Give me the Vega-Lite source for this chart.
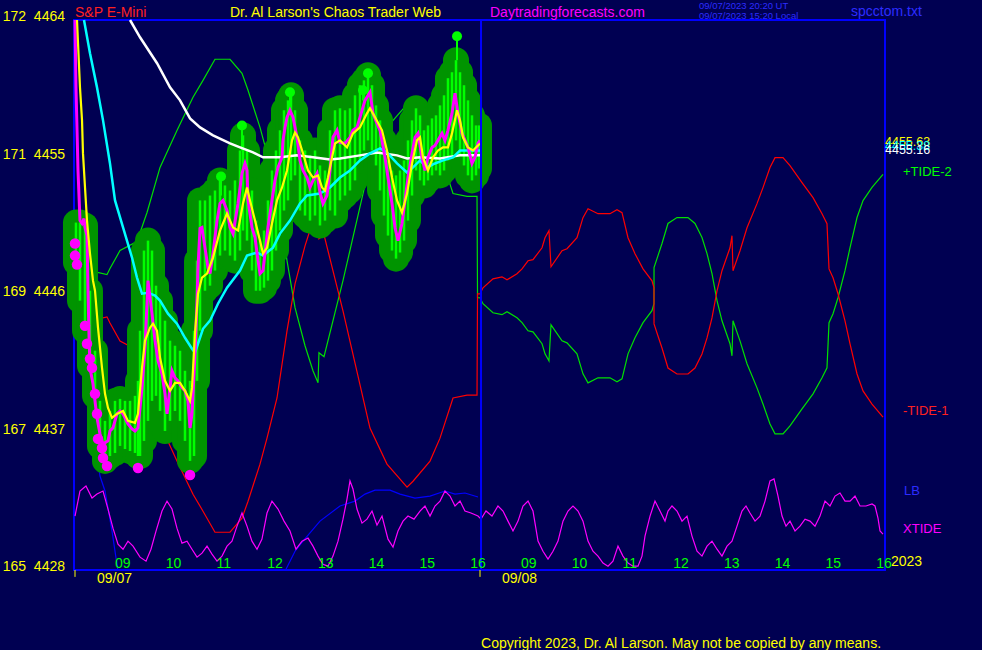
{
"$schema":"https://vega.github.io/schema/vega-lite/v6.json",
"width":811,"height":550,
"autosize":{"type":"none"},
"padding":{"left":74,"top":20,"right":97,"bottom":80},
"background":"#000052",
"config":{"view":{"stroke":"#0000ff","strokeWidth":2},"font":"Liberation Sans","text":{"font":"Liberation Sans"}},
"datasets":{
"tide":[
{"h":8.291,"g":4447.79,"r":4444.11},{"h":8.586,"g":4447.59,"r":4444.31},{"h":8.921,"g":4447.33,"r":4444.57},{"h":8.98,"g":4447.73,"r":4444.17},{"h":9.178,"g":4448.91,"r":4442.99},{"h":9.512,"g":4449.5,"r":4442.4},{"h":9.71,"g":4451.4,"r":4440.5},{"h":9.966,"g":4454.35,"r":4437.55},{"h":10.3,"g":4456.77,"r":4435.13},{"h":10.616,"g":4458.94,"r":4432.96},{"h":10.813,"g":4460.05,"r":4431.85},{"h":11.049,"g":4461.43,"r":4430.47},{"h":11.345,"g":4461.43,"r":4430.47},{"h":11.581,"g":4460.51,"r":4431.39},{"h":11.7,"g":4459.4,"r":4432.5},{"h":11.936,"g":4456.97,"r":4434.93},{"h":12.074,"g":4455.27,"r":4436.63},{"h":12.271,"g":4452.64,"r":4439.26},{"h":12.468,"g":4448.25,"r":4443.65},{"h":12.626,"g":4445.17,"r":4446.73},{"h":12.823,"g":4442.68,"r":4449.22},{"h":12.98,"g":4441.04,"r":4450.86},{"h":13.079,"g":4440.25,"r":4451.65},{"h":13.098,"g":4442.22,"r":4449.68},{"h":13.197,"g":4441.96,"r":4449.94},{"h":13.571,"g":4446.94,"r":4444.96},{"h":14.103,"g":4454.61,"r":4437.29},{"h":14.438,"g":4456.97,"r":4434.93},{"h":14.833,"g":4458.48,"r":4433.42},{"h":14.951,"g":4458.09,"r":4433.81},{"h":15.286,"g":4456.77,"r":4435.13},{"h":15.483,"g":4455.27,"r":4436.63},{"h":15.739,"g":4452.64,"r":4439.26},{"h":16.015,"g":4452.45,"r":4439.45},{"h":16.212,"g":4452.45,"r":4439.45},{"h":16.222,"g":4445.82,"r":4446.08},{"h":16.271,"g":4445.82,"r":4446.08},
{"h":16.33,"g":4445.43,"r":4446.47},{"h":16.527,"g":4444.84,"r":4447.06},{"h":16.704,"g":4444.71,"r":4447.19},{"h":16.803,"g":4444.91,"r":4446.99},{"h":17.0,"g":4444.51,"r":4447.39},{"h":17.099,"g":4444.19,"r":4447.71},{"h":17.217,"g":4443.66,"r":4448.24},{"h":17.315,"g":4443.59,"r":4448.31},{"h":17.493,"g":4442.81,"r":4449.09},{"h":17.552,"g":4442.15,"r":4449.75},{"h":17.63,"g":4441.69,"r":4450.21},{"h":17.67,"g":4444.05,"r":4447.85},{"h":17.887,"g":4443.0,"r":4448.9},{"h":17.985,"g":4442.87,"r":4449.03},{"h":18.182,"g":4442.15,"r":4449.75},{"h":18.3,"g":4440.84,"r":4451.06},{"h":18.399,"g":4440.25,"r":4451.65},{"h":18.596,"g":4440.58,"r":4451.32},{"h":18.832,"g":4440.58,"r":4451.32},{"h":18.97,"g":4440.32,"r":4451.58},{"h":19.069,"g":4440.51,"r":4451.39},{"h":19.187,"g":4442.15,"r":4449.75},{"h":19.325,"g":4443.2,"r":4448.7},{"h":19.483,"g":4444.19,"r":4447.71},{"h":19.66,"g":4444.97,"r":4446.93},{"h":19.699,"g":4445.43,"r":4446.47},{"h":19.7,"g":4447.79,"r":4444.11},{"h":19.778,"g":4448.58,"r":4443.32},{"h":19.857,"g":4449.37,"r":4442.53},{"h":19.975,"g":4450.68,"r":4441.22},{"h":20.152,"g":4451.07,"r":4440.83},{"h":20.369,"g":4451.07,"r":4440.83},{"h":20.507,"g":4450.68,"r":4441.22},{"h":20.645,"g":4449.76,"r":4442.14},{"h":20.744,"g":4448.71,"r":4443.19},{"h":20.842,"g":4447.4,"r":4444.5},{"h":20.941,"g":4445.63,"r":4446.27},{"h":21.039,"g":4444.31,"r":4447.59},{"h":21.197,"g":4442.81,"r":4449.09},{"h":21.236,"g":4442.02,"r":4449.88},{"h":21.256,"g":4444.31,"r":4447.59},{"h":21.394,"g":4443.0,"r":4448.9},{"h":21.532,"g":4441.5,"r":4450.4},{"h":21.729,"g":4439.92,"r":4451.98},{"h":21.847,"g":4438.87,"r":4453.03},{"h":21.985,"g":4437.56,"r":4454.34},{"h":22.084,"g":4436.91,"r":4454.99},{"h":22.241,"g":4436.91,"r":4454.99},{"h":22.379,"g":4437.43,"r":4454.47},{"h":22.616,"g":4438.55,"r":4453.35},{"h":22.833,"g":4439.53,"r":4452.37},{"h":23.01,"g":4440.58,"r":4451.32},{"h":23.108,"g":4441.23,"r":4450.67},{"h":23.148,"g":4444.19,"r":4447.71},{"h":23.227,"g":4444.77,"r":4447.13},{"h":23.325,"g":4445.82,"r":4446.08},{"h":23.463,"g":4447.59,"r":4444.31},{"h":23.562,"g":4449.1,"r":4442.8},{"h":23.7,"g":4451.07,"r":4440.83},{"h":23.818,"g":4452.18,"r":4439.72},{"h":23.995,"g":4453.04,"r":4438.86},{"h":24.212,"g":4453.89,"r":4438.01}],
"xtide":[
{"h":8.291,"v":4431.53},{"h":8.389,"v":4433.17},{"h":8.507,"v":4433.5},{"h":8.626,"v":4432.71},{"h":8.724,"v":4432.97},{"h":8.843,"v":4433.17},{"h":8.941,"v":4431.99},{"h":9.039,"v":4430.74},{"h":9.138,"v":4429.69},{"h":9.237,"v":4429.36},{"h":9.335,"v":4429.89},{"h":9.434,"v":4429.56},{"h":9.572,"v":4428.84},{"h":9.69,"v":4428.58},{"h":9.788,"v":4429.36},{"h":9.887,"v":4430.55},{"h":10.005,"v":4431.86},{"h":10.104,"v":4432.51},{"h":10.202,"v":4431.99},{"h":10.3,"v":4430.74},{"h":10.399,"v":4429.76},{"h":10.498,"v":4429.89},{"h":10.596,"v":4429.36},{"h":10.695,"v":4428.84},{"h":10.793,"v":4429.1},{"h":10.892,"v":4429.56},{"h":10.99,"v":4429.04},{"h":11.089,"v":4428.58},{"h":11.187,"v":4428.91},{"h":11.286,"v":4429.56},{"h":11.384,"v":4429.89},{"h":11.483,"v":4430.87},{"h":11.581,"v":4431.73},{"h":11.68,"v":4430.87},{"h":11.778,"v":4429.89},{"h":11.877,"v":4429.36},{"h":11.975,"v":4430.02},{"h":12.074,"v":4431.73},{"h":12.172,"v":4432.51},{"h":12.291,"v":4431.99},{"h":12.409,"v":4431.2},{"h":12.527,"v":4430.55},{"h":12.645,"v":4429.36},{"h":12.764,"v":4429.89},{"h":12.882,"v":4430.09},{"h":12.98,"v":4429.56},{"h":13.079,"v":4428.91},{"h":13.177,"v":4428.38},{"h":13.276,"v":4428.25},{"h":13.374,"v":4428.91},{"h":13.473,"v":4429.89},{"h":13.571,"v":4431.33},{"h":13.65,"v":4432.64},{"h":13.709,"v":4433.83},{"h":13.768,"v":4433.3},{"h":13.847,"v":4431.99},{"h":13.946,"v":4431.07},{"h":14.044,"v":4431.33},{"h":14.143,"v":4431.86},{"h":14.241,"v":4430.94},{"h":14.34,"v":4431.53},{"h":14.458,"v":4430.02},{"h":14.557,"v":4429.5},{"h":14.655,"v":4430.55},{"h":14.754,"v":4431.2},{"h":14.852,"v":4431.53},{"h":14.97,"v":4431.33},{"h":15.089,"v":4431.86},{"h":15.187,"v":4432.19},{"h":15.286,"v":4431.53},{"h":15.384,"v":4432.19},{"h":15.483,"v":4432.51},{"h":15.581,"v":4433.17},{"h":15.68,"v":4432.84},{"h":15.778,"v":4432.19},{"h":15.877,"v":4432.51},{"h":15.975,"v":4431.86},{"h":16.093,"v":4431.73},{"h":16.231,"v":4431.53},{"h":16.291,"v":4431.33},{"h":16.389,"v":4431.86},{"h":16.507,"v":4431.53},{"h":16.625,"v":4432.19},{"h":16.724,"v":4431.86},{"h":16.822,"v":4431.2},{"h":16.921,"v":4430.55},{"h":17.02,"v":4431.2},{"h":17.118,"v":4432.19},{"h":17.217,"v":4432.51},{"h":17.315,"v":4431.86},{"h":17.414,"v":4429.89},{"h":17.512,"v":4429.23},{"h":17.611,"v":4428.71},{"h":17.709,"v":4429.23},{"h":17.808,"v":4429.89},{"h":17.906,"v":4431.2},{"h":18.005,"v":4431.86},{"h":18.103,"v":4432.19},{"h":18.202,"v":4431.86},{"h":18.3,"v":4431.2},{"h":18.399,"v":4429.89},{"h":18.497,"v":4429.23},{"h":18.596,"v":4428.91},{"h":18.694,"v":4428.45},{"h":18.793,"v":4428.25},{"h":18.891,"v":4428.58},{"h":18.99,"v":4429.56},{"h":19.088,"v":4428.91},{"h":19.187,"v":4428.45},{"h":19.286,"v":4428.25},{"h":19.384,"v":4428.25},{"h":19.463,"v":4428.91},{"h":19.522,"v":4430.22},{"h":19.621,"v":4431.53},{"h":19.719,"v":4432.51},{"h":19.818,"v":4431.86},{"h":19.916,"v":4431.2},{"h":19.975,"v":4431.86},{"h":20.054,"v":4432.19},{"h":20.152,"v":4431.86},{"h":20.251,"v":4431.2},{"h":20.35,"v":4431.53},{"h":20.448,"v":4430.22},{"h":20.547,"v":4429.23},{"h":20.645,"v":4428.91},{"h":20.744,"v":4429.56},{"h":20.842,"v":4429.89},{"h":20.941,"v":4429.36},{"h":21.039,"v":4428.91},{"h":21.138,"v":4429.56},{"h":21.236,"v":4429.89},{"h":21.335,"v":4430.87},{"h":21.433,"v":4431.86},{"h":21.512,"v":4432.19},{"h":21.591,"v":4431.73},{"h":21.69,"v":4431.2},{"h":21.788,"v":4431.53},{"h":21.887,"v":4432.51},{"h":21.985,"v":4433.83},{"h":22.064,"v":4433.96},{"h":22.143,"v":4432.84},{"h":22.222,"v":4431.53},{"h":22.3,"v":4430.87},{"h":22.379,"v":4431.2},{"h":22.478,"v":4430.55},{"h":22.576,"v":4430.87},{"h":22.675,"v":4431.33},{"h":22.773,"v":4431.2},{"h":22.872,"v":4430.87},{"h":22.97,"v":4431.53},{"h":23.069,"v":4432.51},{"h":23.167,"v":4432.19},{"h":23.266,"v":4432.84},{"h":23.364,"v":4433.04},{"h":23.463,"v":4432.51},{"h":23.562,"v":4432.51},{"h":23.66,"v":4432.84},{"h":23.759,"v":4432.19},{"h":23.877,"v":4432.19},{"h":23.995,"v":4432.32},{"h":24.054,"v":4432.19},{"h":24.113,"v":4431.4},{"h":24.153,"v":4430.55},{"h":24.212,"v":4430.35}],
"lb":[
{"h":8.626,"v":4437.76},{"h":8.783,"v":4434.15},{"h":8.882,"v":4433.17},{"h":9.02,"v":4430.55},{"h":9.138,"v":4427.92},{"h":9.276,"v":4425.95},{"h":10.754,"v":4423.33},{"h":12.133,"v":4425.3},{"h":12.429,"v":4427.92},{"h":12.626,"v":4429.23},{"h":12.783,"v":4429.89},{"h":13.118,"v":4431.2},{"h":13.512,"v":4432.19},{"h":13.808,"v":4432.51},{"h":14.005,"v":4432.97},{"h":14.202,"v":4433.23},{"h":14.498,"v":4433.23},{"h":14.695,"v":4432.97},{"h":14.99,"v":4432.71},{"h":15.286,"v":4432.84},{"h":15.581,"v":4433.17},{"h":15.778,"v":4432.97},{"h":15.975,"v":4433.04},{"h":16.231,"v":4432.78}],
"bars":[
{"h":8.31,"hi":4450.74,"lo":4448.12},{"h":8.389,"hi":4450.74,"lo":4445.63},{"h":8.488,"hi":4450.55,"lo":4443.66},{"h":8.586,"hi":4446.28,"lo":4441.37},{"h":8.685,"hi":4442.35,"lo":4439.4},{"h":8.783,"hi":4439.07,"lo":4436.12},{"h":8.882,"hi":4437.76,"lo":4435.14},{"h":8.98,"hi":4438.41,"lo":4435.46},{"h":9.079,"hi":4439.07,"lo":4435.66},{"h":9.178,"hi":4439.2,"lo":4436.12},{"h":9.276,"hi":4439.07,"lo":4435.92},{"h":9.375,"hi":4439.07,"lo":4435.79},{"h":9.473,"hi":4439.4,"lo":4435.66},{"h":9.532,"hi":4440.38,"lo":4435.46},{"h":9.572,"hi":4443.66,"lo":4435.46},{"h":9.65,"hi":4448.91,"lo":4436.45},{"h":9.729,"hi":4449.56,"lo":4437.76},{"h":9.808,"hi":4448.91,"lo":4439.07},{"h":9.887,"hi":4446.61,"lo":4439.4},{"h":9.966,"hi":4445.63,"lo":4438.41},{"h":10.064,"hi":4444.32,"lo":4437.1},{"h":10.163,"hi":4443.01,"lo":4437.76},{"h":10.261,"hi":4442.68,"lo":4438.41},{"h":10.36,"hi":4442.35,"lo":4437.76},{"h":10.458,"hi":4441.04,"lo":4436.45},{"h":10.557,"hi":4440.38,"lo":4435.14},{"h":10.636,"hi":4443.66,"lo":4435.46},{"h":10.695,"hi":4448.25,"lo":4440.38},{"h":10.754,"hi":4452.19,"lo":4443.66},{"h":10.852,"hi":4452.19,"lo":4446.28},{"h":10.951,"hi":4452.51,"lo":4446.61},{"h":11.049,"hi":4452.84,"lo":4447.6},{"h":11.148,"hi":4453.5,"lo":4448.58},{"h":11.246,"hi":4453.17,"lo":4448.91},{"h":11.345,"hi":4452.84,"lo":4448.58},{"h":11.443,"hi":4453.5,"lo":4448.25},{"h":11.542,"hi":4455.46,"lo":4448.91},{"h":11.601,"hi":4456.45,"lo":4450.22},{"h":11.68,"hi":4455.46,"lo":4449.56},{"h":11.778,"hi":4452.84,"lo":4447.6},{"h":11.857,"hi":4450.87,"lo":4446.28},{"h":11.936,"hi":4449.56,"lo":4446.28},{"h":12.015,"hi":4450.22,"lo":4446.48},{"h":12.093,"hi":4452.19,"lo":4446.94},{"h":12.172,"hi":4454.15,"lo":4447.6},{"h":12.251,"hi":4455.46,"lo":4448.91},{"h":12.33,"hi":4456.78,"lo":4450.22},{"h":12.409,"hi":4458.09,"lo":4451.53},{"h":12.488,"hi":4458.74,"lo":4452.19},{"h":12.547,"hi":4459.07,"lo":4453.5},{"h":12.626,"hi":4458.09,"lo":4453.83},{"h":12.724,"hi":4456.12,"lo":4451.53},{"h":12.823,"hi":4455.46,"lo":4451.2},{"h":12.921,"hi":4455.14,"lo":4450.87},{"h":13.02,"hi":4455.46,"lo":4451.2},{"h":13.118,"hi":4454.48,"lo":4450.55},{"h":13.217,"hi":4454.15,"lo":4450.87},{"h":13.315,"hi":4456.78,"lo":4451.53},{"h":13.414,"hi":4458.09,"lo":4451.2},{"h":13.512,"hi":4458.22,"lo":4452.19},{"h":13.611,"hi":4458.09,"lo":4452.51},{"h":13.709,"hi":4458.22,"lo":4452.84},{"h":13.808,"hi":4459.07,"lo":4453.5},{"h":13.906,"hi":4459.73,"lo":4454.81},{"h":13.985,"hi":4460.05,"lo":4455.46},{"h":14.064,"hi":4460.38,"lo":4456.12},{"h":14.143,"hi":4459.73,"lo":4455.46},{"h":14.222,"hi":4458.41,"lo":4454.48},{"h":14.301,"hi":4457.43,"lo":4452.84},{"h":14.379,"hi":4456.12,"lo":4451.2},{"h":14.458,"hi":4454.81,"lo":4449.89},{"h":14.537,"hi":4454.15,"lo":4448.91},{"h":14.616,"hi":4453.83,"lo":4448.38},{"h":14.695,"hi":4454.15,"lo":4448.78},{"h":14.774,"hi":4454.81,"lo":4449.56},{"h":14.852,"hi":4456.12,"lo":4450.87},{"h":14.931,"hi":4457.43,"lo":4452.51},{"h":15.01,"hi":4458.22,"lo":4454.15},{"h":15.089,"hi":4457.76,"lo":4453.5},{"h":15.167,"hi":4456.78,"lo":4453.17},{"h":15.246,"hi":4457.1,"lo":4453.5},{"h":15.325,"hi":4457.56,"lo":4453.83},{"h":15.404,"hi":4457.76,"lo":4454.15},{"h":15.483,"hi":4458.41,"lo":4453.83},{"h":15.562,"hi":4459.07,"lo":4454.15},{"h":15.64,"hi":4460.19,"lo":4454.81},{"h":15.719,"hi":4460.58,"lo":4455.14},{"h":15.798,"hi":4461.37,"lo":4456.12},{"h":15.877,"hi":4460.58,"lo":4455.14},{"h":15.956,"hi":4459.73,"lo":4454.48},{"h":16.034,"hi":4458.74,"lo":4453.83},{"h":16.113,"hi":4457.76,"lo":4453.5},{"h":16.192,"hi":4457.1,"lo":4453.83},{"h":16.251,"hi":4457.1,"lo":4454.28}],
"close":[
{"h":8.291,"v":4464},{"h":8.31,"v":4459.59},{"h":8.35,"v":4454.15},{"h":8.389,"v":4450.87},{"h":8.429,"v":4450.68},{"h":8.468,"v":4451.0},{"h":8.488,"v":4450.42},{"h":8.527,"v":4449.89},{"h":8.547,"v":4446.28},{"h":8.567,"v":4443.33},{"h":8.586,"v":4441.23},{"h":8.645,"v":4440.19},{"h":8.724,"v":4437.96},{"h":8.783,"v":4436.91},{"h":8.843,"v":4436.25},{"h":8.941,"v":4436.45},{"h":8.98,"v":4437.1},{"h":9.039,"v":4437.3},{"h":9.118,"v":4438.22},{"h":9.178,"v":4438.41},{"h":9.237,"v":4438.22},{"h":9.335,"v":4437.56},{"h":9.414,"v":4437.23},{"h":9.473,"v":4437.1},{"h":9.532,"v":4437.3},{"h":9.572,"v":4438.61},{"h":9.611,"v":4439.92},{"h":9.67,"v":4442.55},{"h":9.729,"v":4446.94},{"h":9.808,"v":4444.78},{"h":9.867,"v":4443.01},{"h":9.926,"v":4441.69},{"h":10.005,"v":4440.84},{"h":10.064,"v":4439.53},{"h":10.104,"v":4438.22},{"h":10.163,"v":4439.92},{"h":10.202,"v":4441.04},{"h":10.261,"v":4440.58},{"h":10.32,"v":4440.38},{"h":10.399,"v":4439.92},{"h":10.458,"v":4439.73},{"h":10.517,"v":4439.07},{"h":10.557,"v":4437.3},{"h":10.596,"v":4438.22},{"h":10.616,"v":4439.53},{"h":10.655,"v":4442.15},{"h":10.695,"v":4445.63},{"h":10.714,"v":4447.79},{"h":10.754,"v":4450.35},{"h":10.793,"v":4450.42},{"h":10.852,"v":4449.1},{"h":10.911,"v":4447.79},{"h":10.951,"v":4447.4},{"h":11.01,"v":4448.71},{"h":11.089,"v":4450.87},{"h":11.148,"v":4451.99},{"h":11.207,"v":4452.19},{"h":11.286,"v":4451.53},{"h":11.345,"v":4450.42},{"h":11.404,"v":4450.02},{"h":11.503,"v":4451.99},{"h":11.581,"v":4453.96},{"h":11.64,"v":4454.61},{"h":11.68,"v":4454.15},{"h":11.7,"v":4452.19},{"h":11.778,"v":4450.42},{"h":11.838,"v":4449.76},{"h":11.897,"v":4448.25},{"h":11.936,"v":4447.4},{"h":11.995,"v":4447.6},{"h":12.034,"v":4448.71},{"h":12.093,"v":4450.42},{"h":12.172,"v":4452.19},{"h":12.231,"v":4453.5},{"h":12.291,"v":4454.35},{"h":12.37,"v":4455.01},{"h":12.389,"v":4456.12},{"h":12.429,"v":4456.97},{"h":12.468,"v":4457.63},{"h":12.527,"v":4458.09},{"h":12.586,"v":4457.63},{"h":12.665,"v":4456.32},{"h":12.724,"v":4454.81},{"h":12.783,"v":4454.15},{"h":12.862,"v":4453.69},{"h":12.921,"v":4453.04},{"h":12.98,"v":4453.5},{"h":13.059,"v":4453.96},{"h":13.118,"v":4452.71},{"h":13.177,"v":4451.99},{"h":13.256,"v":4452.51},{"h":13.315,"v":4454.15},{"h":13.374,"v":4456.32},{"h":13.453,"v":4456.78},{"h":13.512,"v":4455.99},{"h":13.611,"v":4455.92},{"h":13.709,"v":4456.32},{"h":13.768,"v":4456.78},{"h":13.847,"v":4456.97},{"h":13.906,"v":4457.63},{"h":14.005,"v":4458.74},{"h":14.103,"v":4459.27},{"h":14.163,"v":4457.89},{"h":14.241,"v":4457.23},{"h":14.301,"v":4456.78},{"h":14.399,"v":4455.01},{"h":14.458,"v":4453.69},{"h":14.537,"v":4451.99},{"h":14.596,"v":4450.42},{"h":14.655,"v":4449.56},{"h":14.734,"v":4450.68},{"h":14.793,"v":4452.19},{"h":14.852,"v":4453.69},{"h":14.931,"v":4455.27},{"h":14.99,"v":4456.32},{"h":15.049,"v":4456.58},{"h":15.128,"v":4455.01},{"h":15.187,"v":4454.15},{"h":15.246,"v":4455.01},{"h":15.325,"v":4455.66},{"h":15.384,"v":4455.79},{"h":15.443,"v":4456.12},{"h":15.522,"v":4456.58},{"h":15.581,"v":4456.12},{"h":15.64,"v":4456.78},{"h":15.719,"v":4457.89},{"h":15.778,"v":4459.2},{"h":15.837,"v":4457.89},{"h":15.916,"v":4456.58},{"h":15.975,"v":4456.12},{"h":16.034,"v":4455.66},{"h":16.113,"v":4454.61},{"h":16.172,"v":4455.01},{"h":16.231,"v":4455.92},{"h":16.271,"v":4456.12}],
"yel":[
{"h":8.33,"v":4464},{"h":8.389,"v":4459.59},{"h":8.429,"v":4457.43},{"h":8.448,"v":4455.27},{"h":8.527,"v":4450.87},{"h":8.586,"v":4448.71},{"h":8.645,"v":4446.94},{"h":8.685,"v":4446.28},{"h":8.744,"v":4443.86},{"h":8.823,"v":4441.23},{"h":8.882,"v":4439.53},{"h":8.941,"v":4438.61},{"h":9.02,"v":4437.96},{"h":9.118,"v":4438.22},{"h":9.237,"v":4438.41},{"h":9.335,"v":4437.76},{"h":9.473,"v":4437.63},{"h":9.532,"v":4438.22},{"h":9.611,"v":4441.23},{"h":9.67,"v":4443.01},{"h":9.769,"v":4443.86},{"h":9.828,"v":4444.12},{"h":9.907,"v":4443.66},{"h":9.966,"v":4441.89},{"h":10.064,"v":4440.38},{"h":10.163,"v":4439.73},{"h":10.261,"v":4440.25},{"h":10.36,"v":4440.25},{"h":10.458,"v":4439.73},{"h":10.557,"v":4439.07},{"h":10.596,"v":4439.92},{"h":10.655,"v":4443.46},{"h":10.714,"v":4446.09},{"h":10.793,"v":4447.14},{"h":10.892,"v":4447.4},{"h":11.01,"v":4448.45},{"h":11.148,"v":4450.22},{"h":11.286,"v":4451.33},{"h":11.404,"v":4450.42},{"h":11.503,"v":4450.22},{"h":11.601,"v":4451.99},{"h":11.68,"v":4453.04},{"h":11.739,"v":4452.19},{"h":11.838,"v":4450.87},{"h":11.936,"v":4449.56},{"h":11.995,"v":4448.71},{"h":12.074,"v":4449.1},{"h":12.172,"v":4450.68},{"h":12.271,"v":4452.19},{"h":12.37,"v":4453.04},{"h":12.468,"v":4454.15},{"h":12.567,"v":4456.12},{"h":12.626,"v":4456.64},{"h":12.685,"v":4456.32},{"h":12.783,"v":4455.27},{"h":12.882,"v":4454.15},{"h":12.98,"v":4453.69},{"h":13.079,"v":4453.83},{"h":13.158,"v":4453.04},{"h":13.217,"v":4452.84},{"h":13.276,"v":4453.69},{"h":13.355,"v":4455.01},{"h":13.414,"v":4455.92},{"h":13.512,"v":4456.12},{"h":13.65,"v":4455.66},{"h":13.768,"v":4456.58},{"h":13.906,"v":4456.97},{"h":14.044,"v":4457.89},{"h":14.103,"v":4458.22},{"h":14.202,"v":4457.63},{"h":14.34,"v":4456.78},{"h":14.438,"v":4455.46},{"h":14.537,"v":4453.69},{"h":14.636,"v":4452.19},{"h":14.734,"v":4451.4},{"h":14.833,"v":4452.64},{"h":14.931,"v":4454.61},{"h":15.029,"v":4456.12},{"h":15.089,"v":4456.32},{"h":15.148,"v":4455.01},{"h":15.246,"v":4454.15},{"h":15.345,"v":4455.01},{"h":15.443,"v":4455.46},{"h":15.542,"v":4455.66},{"h":15.64,"v":4455.66},{"h":15.719,"v":4456.58},{"h":15.818,"v":4458.09},{"h":15.877,"v":4457.43},{"h":15.936,"v":4456.32},{"h":16.034,"v":4455.66},{"h":16.133,"v":4455.46},{"h":16.231,"v":4455.79},{"h":16.271,"v":4455.92}],
"cyan":[
{"h":8.468,"v":4464},{"h":8.586,"v":4461.82},{"h":8.724,"v":4459.59},{"h":8.843,"v":4457.43},{"h":8.98,"v":4454.61},{"h":9.079,"v":4452.19},{"h":9.237,"v":4450.42},{"h":9.414,"v":4448.45},{"h":9.512,"v":4447.14},{"h":9.611,"v":4446.09},{"h":9.729,"v":4446.15},{"h":9.867,"v":4445.96},{"h":9.966,"v":4445.63},{"h":10.123,"v":4444.78},{"h":10.3,"v":4444.12},{"h":10.458,"v":4443.2},{"h":10.596,"v":4442.48},{"h":10.655,"v":4442.22},{"h":10.714,"v":4442.81},{"h":10.813,"v":4443.79},{"h":10.951,"v":4444.32},{"h":11.108,"v":4445.43},{"h":11.286,"v":4446.48},{"h":11.542,"v":4447.6},{"h":11.68,"v":4448.58},{"h":11.877,"v":4448.78},{"h":11.995,"v":4448.58},{"h":12.192,"v":4449.1},{"h":12.33,"v":4450.02},{"h":12.527,"v":4450.87},{"h":12.724,"v":4451.99},{"h":12.862,"v":4452.51},{"h":13.118,"v":4452.64},{"h":13.315,"v":4453.04},{"h":13.512,"v":4453.69},{"h":13.709,"v":4454.15},{"h":13.906,"v":4454.81},{"h":14.103,"v":4455.27},{"h":14.301,"v":4455.6},{"h":14.438,"v":4455.33},{"h":14.636,"v":4454.61},{"h":14.833,"v":4454.02},{"h":14.951,"v":4454.35},{"h":15.089,"v":4454.81},{"h":15.226,"v":4454.35},{"h":15.384,"v":4454.61},{"h":15.542,"v":4454.81},{"h":15.739,"v":4455.01},{"h":15.877,"v":4455.46},{"h":16.074,"v":4455.46},{"h":16.271,"v":4455.46}],
"white":[
{"h":9.375,"v":4464},{"h":9.572,"v":4462.87},{"h":9.907,"v":4461.17},{"h":10.163,"v":4459.59},{"h":10.36,"v":4458.74},{"h":10.557,"v":4457.56},{"h":10.754,"v":4456.97},{"h":11.01,"v":4456.45},{"h":11.345,"v":4455.92},{"h":11.542,"v":4455.66},{"h":11.798,"v":4455.33},{"h":11.995,"v":4455.01},{"h":12.33,"v":4455.01},{"h":12.665,"v":4455.14},{"h":12.98,"v":4455.01},{"h":13.315,"v":4454.87},{"h":13.512,"v":4454.94},{"h":13.906,"v":4455.14},{"h":14.241,"v":4455.33},{"h":14.636,"v":4455.14},{"h":14.833,"v":4454.94},{"h":15.089,"v":4455.01},{"h":15.483,"v":4454.94},{"h":15.877,"v":4455.14},{"h":16.271,"v":4455.14}],
"lows":[
{"h":8.291,"v":4449.37},{"h":8.291,"v":4448.58},{"h":8.33,"v":4447.99},{"h":8.488,"v":4443.99},{"h":8.527,"v":4442.81},{"h":8.586,"v":4441.82},{"h":8.626,"v":4441.23},{"h":8.685,"v":4439.53},{"h":8.724,"v":4438.22},{"h":8.744,"v":4436.58},{"h":8.823,"v":4435.99},{"h":8.843,"v":4435.33},{"h":8.921,"v":4434.81},{"h":9.532,"v":4434.68},{"h":10.557,"v":4434.22}],
"pins":[
{"h":11.168,"top":4453.76,"base":4452.51},{"h":11.581,"top":4457.1,"base":4455.46},{"h":12.527,"top":4459.27,"base":4458.22},{"h":13.966,"top":4459.4,"base":4458.74},{"h":14.064,"top":4460.51,"base":4459.4},{"h":15.818,"top":4462.94,"base":4461.37}],
"hours":[
{"h":9,"label":"09"},{"h":10,"label":"10"},{"h":11,"label":"11"},{"h":12,"label":"12"},{"h":13,"label":"13"},{"h":14,"label":"14"},{"h":15,"label":"15"},{"h":16,"label":"16"},{"h":17,"label":"09"},{"h":18,"label":"10"},{"h":19,"label":"11"},{"h":20,"label":"12"},{"h":21,"label":"13"},{"h":22,"label":"14"},{"h":23,"label":"15"},{"h":24,"label":"16"}],
"ylabels":[
{"p":4464,"label":"172\u00a0\u00a04464"},{"p":4455,"label":"171\u00a0\u00a04455"},{"p":4446,"label":"169\u00a0\u00a04446"},{"p":4437,"label":"167\u00a0\u00a04437"},{"p":4428,"label":"165\u00a0\u00a04428"}],
"daystart":[{"h":8.291},{"h":16.271}],
"now":[{"h":16.291}],
"notes":[
{"text":"S&P E-Mini","h":8.291,"p":4464.48,"role":"red","kind":"big"},
{"text":"Dr. Al Larson's Chaos Trader Web","h":11.345,"p":4464.48,"role":"yellow","kind":"big"},
{"text":"Daytradingforecasts.com","h":16.468,"p":4464.48,"role":"magenta","kind":"big"},
{"text":"spcctom.txt","h":23.582,"p":4464.51,"role":"blue","kind":"big"},
{"text":"09/07/2023 20:20 UT","h":20.586,"p":4464.94,"role":"blue","kind":"small"},
{"text":"09/07/2023 15:20 Local","h":20.586,"p":4464.28,"role":"blue","kind":"small"},
{"text":"Copyright 2023, Dr. Al Larson. May not be copied by any means.","h":16.291,"p":4423.14,"role":"yellow","kind":"big"},
{"text":"09/07","h":8.724,"p":4427.4,"role":"yellow","kind":"big"},
{"text":"09/08","h":16.704,"p":4427.4,"role":"yellow","kind":"big"},
{"text":"2023","h":24.369,"p":4428.55,"role":"yellow","kind":"big"},
{"text":"4455.63","h":24.251,"p":4455.99,"role":"yellow","kind":"value"},
{"text":"4455.38","h":24.251,"p":4455.73,"role":"cyan","kind":"value"},
{"text":"4455.16","h":24.251,"p":4455.46,"role":"white","kind":"value"},
{"text":"+TIDE-2","h":24.606,"p":4454.02,"role":"green","kind":"tag"},
{"text":"-TIDE-1","h":24.606,"p":4438.41,"role":"red","kind":"tag"},
{"text":"LB","h":24.626,"p":4433.17,"role":"blue","kind":"tag"},
{"text":"XTIDE","h":24.606,"p":4430.68,"role":"magenta","kind":"tag"}]
},
"layer":[
{"data":{"name":"tide"},"mark":{"type":"line","color":"#00e000","strokeWidth":1.2},
 "encoding":{
  "x":{"field":"h","type":"quantitative","scale":{"domain":[8.271,24.251],"nice":false,"zero":false},
   "axis":{"values":[9,10,11,12,13,14,15,16,17,18,19,20,21,22,23,24],"grid":true,"gridColor":"#1a421a","gridWidth":1,"ticks":true,"tickColor":"#1a421a","tickSize":10,"labels":false,"domain":false,"title":null}},
  "y":{"field":"g","type":"quantitative","scale":{"domain":[4428,4464],"nice":false,"zero":false},
   "axis":{"values":[4428,4437,4446,4455,4464],"grid":true,"gridColor":"#1a421a","gridWidth":1,"ticks":true,"tickColor":"#00c000","tickSize":3,"labels":false,"domain":false,"title":null}}}},
{"data":{"name":"tide"},"mark":{"type":"line","color":"#ff0000","strokeWidth":1.2},
 "encoding":{"x":{"field":"h","type":"quantitative","scale":{"domain":[8.271,24.251],"nice":false,"zero":false},"axis":null},
  "y":{"field":"r","type":"quantitative","scale":{"domain":[4428,4464],"nice":false,"zero":false},"axis":null}}},
{"data":{"name":"lb"},"mark":{"type":"line","color":"#0000ff","strokeWidth":1.2,"clip":true},
 "encoding":{"x":{"field":"h","type":"quantitative","scale":{"domain":[8.271,24.251],"nice":false,"zero":false},"axis":null},
  "y":{"field":"v","type":"quantitative","scale":{"domain":[4428,4464],"nice":false,"zero":false},"axis":null}}},
{"data":{"name":"xtide"},"mark":{"type":"line","color":"#ff00ff","strokeWidth":1.2},
 "encoding":{"x":{"field":"h","type":"quantitative","scale":{"domain":[8.271,24.251],"nice":false,"zero":false},"axis":null},
  "y":{"field":"v","type":"quantitative","scale":{"domain":[4428,4464],"nice":false,"zero":false},"axis":null}}},
{"data":{"name":"bars"},"mark":{"type":"rule","color":"#009400","strokeWidth":26,"strokeCap":"round"},
 "encoding":{"x":{"field":"h","type":"quantitative","scale":{"domain":[8.271,24.251],"nice":false,"zero":false},"axis":null},
  "y":{"field":"hi","type":"quantitative","scale":{"domain":[4428,4464],"nice":false,"zero":false},"axis":null},"y2":{"field":"lo"}}},
{"data":{"name":"bars"},"mark":{"type":"rule","color":"#00ff00","strokeWidth":2.5},
 "encoding":{"x":{"field":"h","type":"quantitative","scale":{"domain":[8.271,24.251],"nice":false,"zero":false},"axis":null},
  "y":{"field":"hi","type":"quantitative","scale":{"domain":[4428,4464],"nice":false,"zero":false},"axis":null},"y2":{"field":"lo"}}},
{"data":{"name":"pins"},"mark":{"type":"rule","color":"#00ff00","strokeWidth":2},
 "encoding":{"x":{"field":"h","type":"quantitative","scale":{"domain":[8.271,24.251],"nice":false,"zero":false},"axis":null},
  "y":{"field":"top","type":"quantitative","scale":{"domain":[4428,4464],"nice":false,"zero":false},"axis":null},"y2":{"field":"base"}}},
{"data":{"name":"pins"},"mark":{"type":"point","filled":true,"color":"#00ff00","size":100,"opacity":1},
 "encoding":{"x":{"field":"h","type":"quantitative","scale":{"domain":[8.271,24.251],"nice":false,"zero":false},"axis":null},
  "y":{"field":"top","type":"quantitative","scale":{"domain":[4428,4464],"nice":false,"zero":false},"axis":null}}},
{"data":{"name":"white"},"mark":{"type":"line","color":"#ffffff","strokeWidth":2.5},
 "encoding":{"x":{"field":"h","type":"quantitative","scale":{"domain":[8.271,24.251],"nice":false,"zero":false},"axis":null},
  "y":{"field":"v","type":"quantitative","scale":{"domain":[4428,4464],"nice":false,"zero":false},"axis":null}}},
{"data":{"name":"cyan"},"mark":{"type":"line","color":"#00ffff","strokeWidth":2.5},
 "encoding":{"x":{"field":"h","type":"quantitative","scale":{"domain":[8.271,24.251],"nice":false,"zero":false},"axis":null},
  "y":{"field":"v","type":"quantitative","scale":{"domain":[4428,4464],"nice":false,"zero":false},"axis":null}}},
{"data":{"name":"close"},"mark":{"type":"line","color":"#ff00ff","strokeWidth":3},
 "encoding":{"x":{"field":"h","type":"quantitative","scale":{"domain":[8.271,24.251],"nice":false,"zero":false},"axis":null},
  "y":{"field":"v","type":"quantitative","scale":{"domain":[4428,4464],"nice":false,"zero":false},"axis":null}}},
{"data":{"name":"yel"},"mark":{"type":"line","color":"#ffff00","strokeWidth":2.2},
 "encoding":{"x":{"field":"h","type":"quantitative","scale":{"domain":[8.271,24.251],"nice":false,"zero":false},"axis":null},
  "y":{"field":"v","type":"quantitative","scale":{"domain":[4428,4464],"nice":false,"zero":false},"axis":null}}},
{"data":{"name":"lows"},"mark":{"type":"point","filled":true,"color":"#ff00ff","size":110,"opacity":1},
 "encoding":{"x":{"field":"h","type":"quantitative","scale":{"domain":[8.271,24.251],"nice":false,"zero":false},"axis":null},
  "y":{"field":"v","type":"quantitative","scale":{"domain":[4428,4464],"nice":false,"zero":false},"axis":null}}},
{"data":{"name":"now"},"mark":{"type":"rule","color":"#0000ff","strokeWidth":2},
 "encoding":{"x":{"field":"h","type":"quantitative","scale":{"domain":[8.271,24.251],"nice":false,"zero":false},"axis":null},
  "y":{"datum":4428,"type":"quantitative","scale":{"domain":[4428,4464],"nice":false,"zero":false},"axis":null},"y2":{"datum":4464}}},
{"data":{"name":"daystart"},"mark":{"type":"rule","color":"#ffff00","strokeWidth":1},
 "encoding":{"x":{"field":"h","type":"quantitative","scale":{"domain":[8.271,24.251],"nice":false,"zero":false},"axis":null},
  "y":{"datum":4428,"type":"quantitative","scale":{"domain":[4428,4464],"nice":false,"zero":false},"axis":null},"y2":{"datum":4427.55}}},
{"data":{"name":"ylabels"},"mark":{"type":"text","color":"#ffff00","fontSize":14,"align":"right","baseline":"alphabetic","dx":-9,"dy":1},
 "encoding":{"x":{"datum":8.271,"type":"quantitative","scale":{"domain":[8.271,24.251],"nice":false,"zero":false},"axis":null},
  "y":{"field":"p","type":"quantitative","scale":{"domain":[4428,4464],"nice":false,"zero":false},"axis":null},"text":{"field":"label"}}},
{"data":{"name":"hours"},"mark":{"type":"text","color":"#00ff00","fontSize":14,"align":"left","baseline":"middle","dx":4},
 "encoding":{"x":{"field":"h","type":"quantitative","scale":{"domain":[8.271,24.251],"nice":false,"zero":false},"axis":null},
  "y":{"datum":4428.38,"type":"quantitative","scale":{"domain":[4428,4464],"nice":false,"zero":false},"axis":null},"text":{"field":"label"}}},
{"data":{"name":"notes"},"transform":[{"filter":"datum.kind == 'big'"}],"mark":{"type":"text","fontSize":14,"align":"left","baseline":"middle"},
 "encoding":{"x":{"field":"h","type":"quantitative","scale":{"domain":[8.271,24.251],"nice":false,"zero":false},"axis":null},
  "y":{"field":"p","type":"quantitative","scale":{"domain":[4428,4464],"nice":false,"zero":false},"axis":null},"text":{"field":"text"},
  "color":{"field":"role","type":"nominal","scale":{"domain":["yellow","red","magenta","blue","green","cyan","white"],"range":["#ffff00","#ff2020","#ff00ff","#2c2cff","#00ff00","#00ffff","#ffffff"]},"legend":null}}},
{"data":{"name":"notes"},"transform":[{"filter":"datum.kind == 'small'"}],"mark":{"type":"text","fontSize":9.5,"align":"left","baseline":"middle"},
 "encoding":{"x":{"field":"h","type":"quantitative","scale":{"domain":[8.271,24.251],"nice":false,"zero":false},"axis":null},
  "y":{"field":"p","type":"quantitative","scale":{"domain":[4428,4464],"nice":false,"zero":false},"axis":null},"text":{"field":"text"},
  "color":{"field":"role","type":"nominal","scale":{"domain":["yellow","red","magenta","blue","green","cyan","white"],"range":["#ffff00","#ff2020","#ff00ff","#2c2cff","#00ff00","#00ffff","#ffffff"]},"legend":null}}},
{"data":{"name":"notes"},"transform":[{"filter":"datum.kind == 'value'"}],"mark":{"type":"text","fontSize":12.5,"align":"left","baseline":"middle"},
 "encoding":{"x":{"field":"h","type":"quantitative","scale":{"domain":[8.271,24.251],"nice":false,"zero":false},"axis":null},
  "y":{"field":"p","type":"quantitative","scale":{"domain":[4428,4464],"nice":false,"zero":false},"axis":null},"text":{"field":"text"},
  "color":{"field":"role","type":"nominal","scale":{"domain":["yellow","red","magenta","blue","green","cyan","white"],"range":["#ffff00","#ff2020","#ff00ff","#2c2cff","#00ff00","#00ffff","#ffffff"]},"legend":null}}},
{"data":{"name":"notes"},"transform":[{"filter":"datum.kind == 'tag'"}],"mark":{"type":"text","fontSize":13,"align":"left","baseline":"middle"},
 "encoding":{"x":{"field":"h","type":"quantitative","scale":{"domain":[8.271,24.251],"nice":false,"zero":false},"axis":null},
  "y":{"field":"p","type":"quantitative","scale":{"domain":[4428,4464],"nice":false,"zero":false},"axis":null},"text":{"field":"text"},
  "color":{"field":"role","type":"nominal","scale":{"domain":["yellow","red","magenta","blue","green","cyan","white"],"range":["#ffff00","#ff2020","#ff00ff","#2c2cff","#00ff00","#00ffff","#ffffff"]},"legend":null}}}
]
}
